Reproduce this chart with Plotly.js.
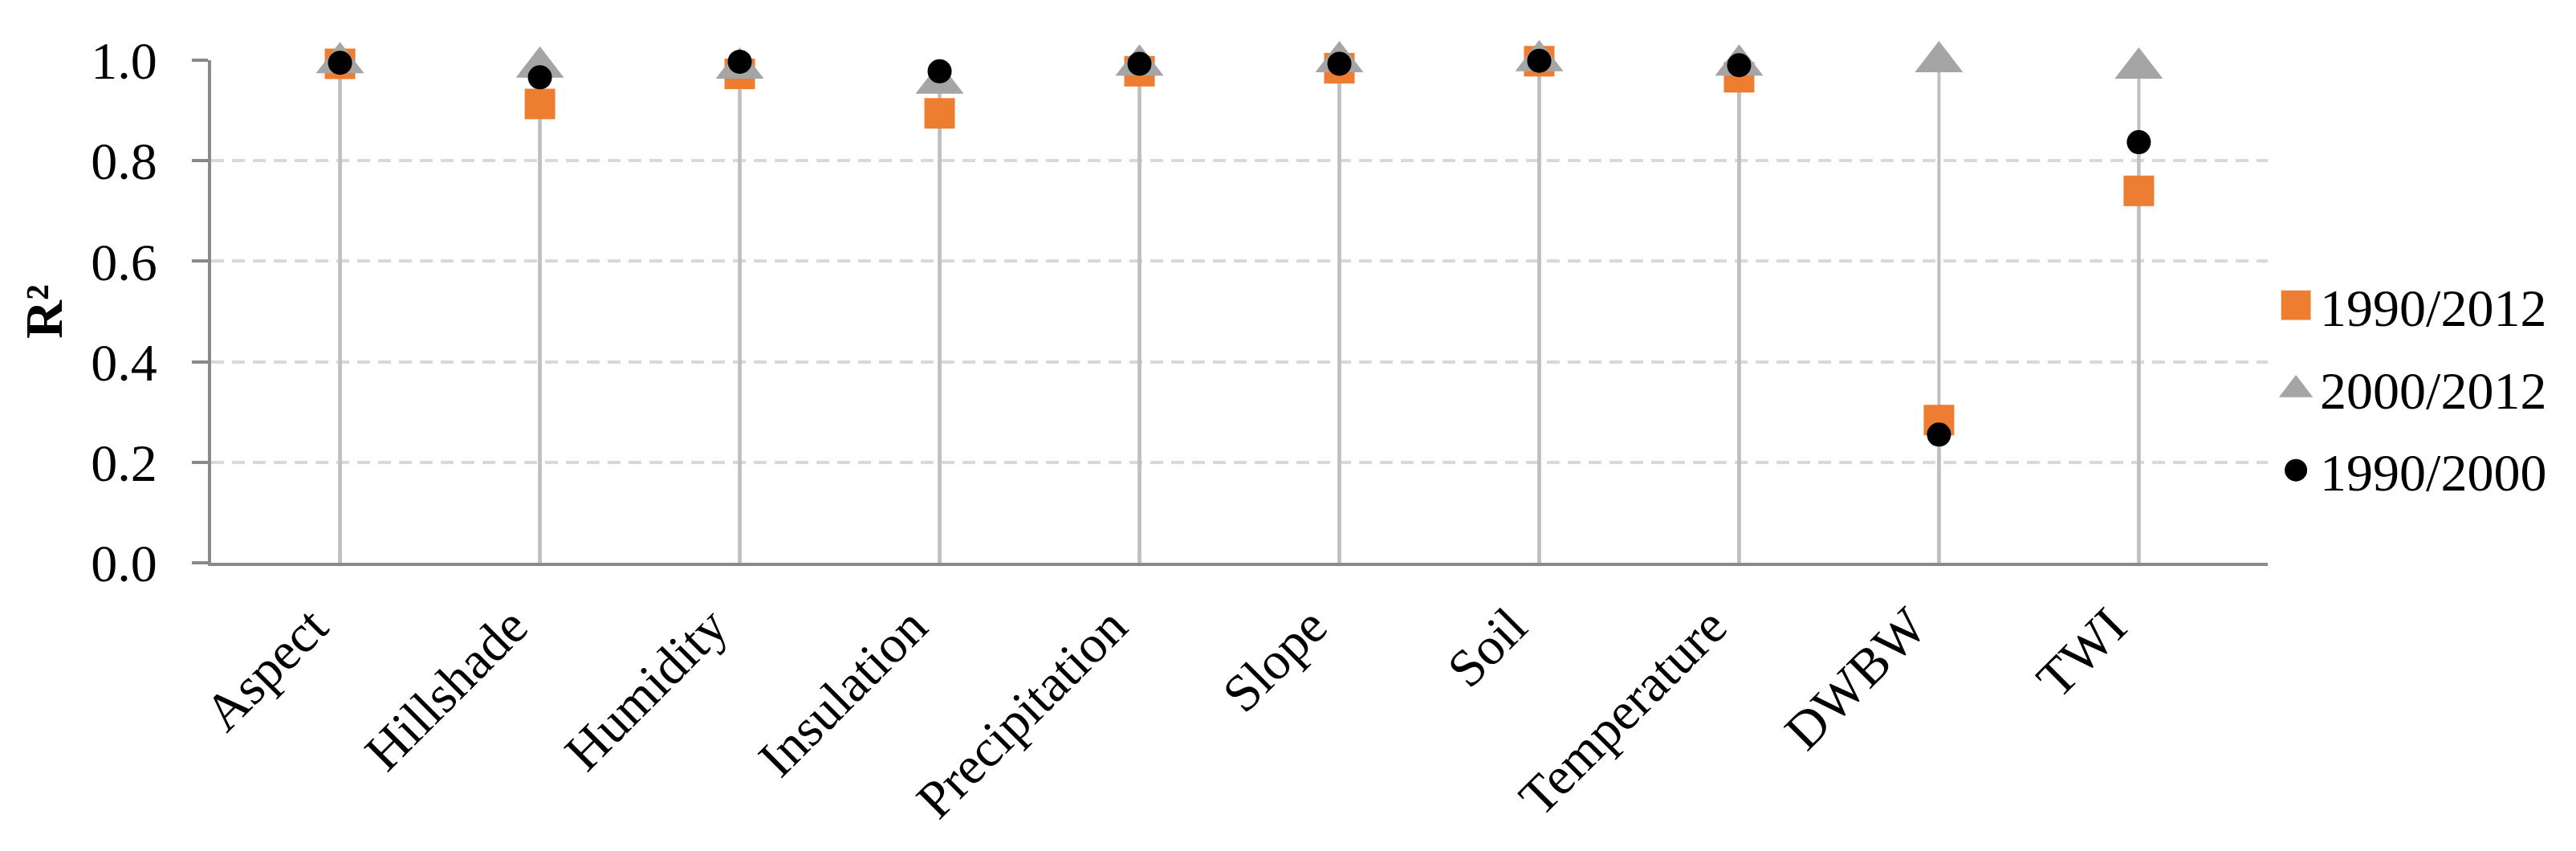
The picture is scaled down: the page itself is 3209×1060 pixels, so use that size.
<!DOCTYPE html>
<html>
<head>
<meta charset="utf-8">
<title>R2 by factor</title>
<script src="https://cdn.plot.ly/plotly-3.0.1.min.js"></script>
<style>
  html, body { margin: 0; padding: 0; background: #fff; }
  #chart { width: 3209px; height: 1060px; }
  /* plotly caps legend symbols at 16px, blow them up to the size used in the figure */
  #chart .legend .legendpoints { transform-box: fill-box; transform-origin: center; transform: scale(2.3); }
  #chart .legend .groups:nth-of-type(3) .legendpoints { transform: scale(1.75); }
</style>
</head>
<body>
<div id="chart"></div>
<script>
// factors on the x axis
const factors = ['Aspect', 'Hillshade', 'Humidity', 'Insulation', 'Precipitation',
                 'Slope', 'Soil', 'Temperature', 'DWBW', 'TWI'];

// R² per comparison period
const r2_1990_2012 = [0.993, 0.913, 0.973, 0.894, 0.978, 0.984, 0.998, 0.966, 0.284, 0.740];
const r2_2000_2012 = [0.995, 0.986, 0.984, 0.954, 0.990, 0.997, 0.999, 0.990, 0.997, 0.984];
const r2_1990_2000 = [0.995, 0.966, 0.997, 0.978, 0.993, 0.993, 0.999, 0.990, 0.255, 0.837];

const seriesNames = ['1990/2012', '2000/2012', '1990/2000'];
const seriesValues = [r2_1990_2012, r2_2000_2012, r2_1990_2000];
const seriesSymbols = ['square', 'triangle-up', 'circle'];
const seriesColors = ['#ed7d31', '#a5a5a5', '#000000'];
const seriesSizes = [38, 52, 30];

const FONT = 'Liberation Serif, Times New Roman, serif';
const FS = 66;

// drop lines first so every marker sits on top of them
const dropLines = seriesValues.map(vals => ({
  x: factors,
  y: vals,
  type: 'scatter',
  mode: 'markers',
  marker: { opacity: 0, size: 1 },
  error_y: {
    type: 'data',
    symmetric: false,
    array: vals.map(() => 0),
    arrayminus: vals,
    width: 0,
    thickness: 4,
    color: '#bfbfbf'
  },
  showlegend: false,
  hoverinfo: 'skip',
  cliponaxis: false
}));

const points = seriesValues.map((vals, i) => ({
  x: factors,
  y: vals,
  type: 'scatter',
  mode: 'markers',
  name: seriesNames[i],
  legendgroup: 'g' + i,
  marker: {
    symbol: seriesSymbols[i],
    color: seriesColors[i],
    size: seriesSizes[i],
    line: { width: 0 }
  },
  cliponaxis: false
}));

const layout = {
  width: 3209,
  height: 1060,
  margin: { l: 263, r: 384, t: 75, b: 359 },
  paper_bgcolor: '#ffffff',
  plot_bgcolor: '#ffffff',
  font: { family: FONT, size: FS, color: '#000000' },
  showlegend: true,
  legend: {
    x: 1.002,
    xanchor: 'left',
    y: 0.348,
    yanchor: 'middle',
    traceorder: 'grouped',
    tracegroupgap: 14,
    itemwidth: 50,
    font: { family: FONT, size: FS, color: '#000000' },
    bgcolor: 'rgba(0,0,0,0)'
  },
  xaxis: {
    type: 'category',
    showgrid: false,
    zeroline: false,
    showline: true,
    linecolor: '#898989',
    linewidth: 4,
    ticks: '',
    tickangle: -45,
    ticklabelstandoff: 10,
    ticklabelshift: -35,
    tickfont: { family: FONT, size: FS, color: '#000000' }
  },
  yaxis: {
    range: [0, 1],
    dtick: 0.2,
    tickformat: '.1f',
    showgrid: true,
    gridcolor: '#d9d9d9',
    gridwidth: 4,
    griddash: '16px,10px',
    zeroline: false,
    showline: true,
    linecolor: '#898989',
    linewidth: 4,
    ticks: 'outside',
    ticklen: 20,
    tickwidth: 4,
    tickcolor: '#898989',
    ticklabelstandoff: 30,
    tickfont: { family: FONT, size: FS, color: '#000000' },
    title: {
      text: 'R²',
      standoff: 15,
      font: { family: FONT, size: FS, color: '#000000', weight: 'bold' }
    }
  }
};

Plotly.newPlot('chart', dropLines.concat(points), layout, { staticPlot: true, displayModeBar: false });
</script>
</body>
</html>
